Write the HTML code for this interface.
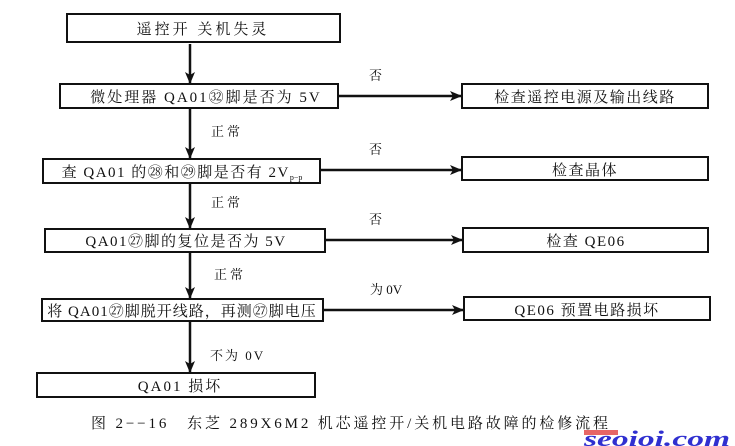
<!DOCTYPE html>
<html><head><meta charset="utf-8"><style>
html,body{margin:0;padding:0;background:#fff;}
svg{display:block;}
text{font-family:"Liberation Serif","Noto Serif CJK SC",serif;fill:#111;}
</style></head><body>
<svg width="735" height="446" viewBox="0 0 735 446" xmlns="http://www.w3.org/2000/svg">
<defs><marker id="a" markerWidth="12" markerHeight="10" refX="11" refY="5" orient="auto" markerUnits="userSpaceOnUse"><path d="M0,0 L12,5 L0,10 L3,5 Z" fill="#111"/></marker></defs>
<g fill="none" stroke="#111" stroke-width="2">
<rect x="67" y="14" width="273" height="28"/>
<rect x="60" y="84" width="278" height="24"/>
<rect x="43" y="159" width="277" height="24"/>
<rect x="45" y="229" width="280" height="23"/>
<rect x="42" y="299" width="281" height="22"/>
<rect x="37" y="373" width="278" height="24"/>
<rect x="462" y="84" width="246" height="24"/>
<rect x="462" y="157" width="246" height="23"/>
<rect x="463" y="228" width="245" height="24"/>
<rect x="464" y="297" width="246" height="23"/>
</g>
<g stroke="#111" stroke-width="2.5" marker-end="url(#a)">
<line x1="190" y1="44" x2="190" y2="83"/>
<line x1="190" y1="108" x2="190" y2="158"/>
<line x1="190" y1="183" x2="190" y2="228"/>
<line x1="190" y1="252" x2="190" y2="298"/>
<line x1="190" y1="321" x2="190" y2="372"/>
<line x1="338" y1="96" x2="461" y2="96"/>
<line x1="320" y1="170" x2="461" y2="170"/>
<line x1="325" y1="240" x2="462" y2="240"/>
<line x1="323" y1="310" x2="463" y2="310"/>
</g>
<g font-size="15" text-anchor="middle">
<text x="203" y="34" letter-spacing="3" font-family="Liberation Sans,Noto Sans CJK SC,sans-serif">遥控开 关机失灵</text>
<text x="206" y="102" letter-spacing="2">微处理器 QA01㉜脚是否为 5V</text>
<text x="182" y="177" letter-spacing="1.5">查 QA01 的㉘和㉙脚是否有 2V<tspan font-size="8" dy="3" letter-spacing="0">p−p</tspan></text>
<text x="186" y="246" letter-spacing="1.5">QA01㉗脚的复位是否为 5V</text>
<text x="182" y="316" letter-spacing="1">将 QA01㉗脚脱开线路，再测㉗脚电压</text>
<text x="180" y="391" letter-spacing="2">QA01 损坏</text>
<text x="585" y="102" letter-spacing="1.5">检查遥控电源及输出线路</text>
<text x="585" y="175" letter-spacing="1.5">检查晶体</text>
<text x="586" y="246" letter-spacing="1.5">检查 QE06</text>
<text x="587" y="315" letter-spacing="1.5">QE06 预置电路损坏</text>
</g>
<g font-size="13">
<text x="369" y="80">否</text>
<text x="369" y="154">否</text>
<text x="369" y="224">否</text>
<text x="370" y="294">为 0V</text>
<text x="211" y="136" letter-spacing="3">正常</text>
<text x="211" y="207" letter-spacing="3">正常</text>
<text x="214" y="279" letter-spacing="3">正常</text>
<text x="210" y="360" letter-spacing="2">不为 0V</text>
<text x="91" y="428" font-size="15" textLength="517" lengthAdjust="spacing">图 2−−16　东芝 289X6M2 机芯遥控开/关机电路故障的检修流程</text>
</g>
<rect x="584" y="430" width="34" height="5" fill="#e04040" opacity="0.8"/>
<text x="584" y="446" font-size="22" font-style="italic" font-weight="bold" font-family="Liberation Sans,sans-serif" style="fill:#3030d0" textLength="146" lengthAdjust="spacingAndGlyphs">seoioi.com</text>
</svg>
</body></html>
